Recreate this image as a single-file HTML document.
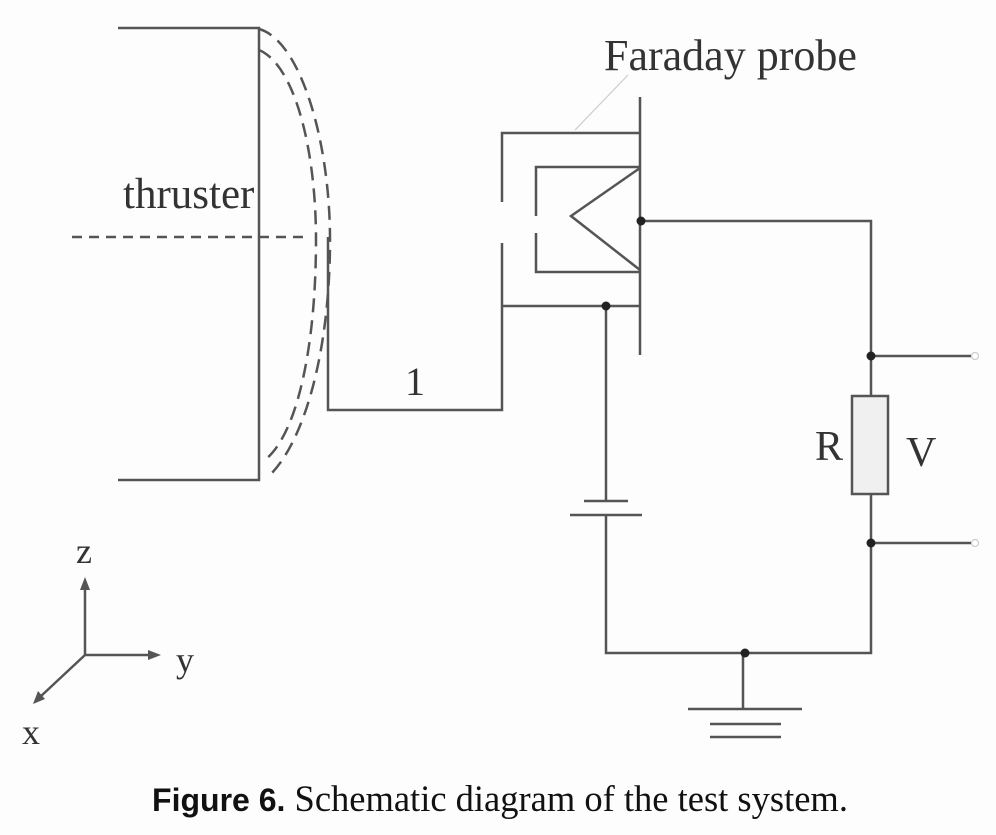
<!DOCTYPE html>
<html><head><meta charset="utf-8"><style>
html,body{margin:0;padding:0;background:#fdfdfd;}
svg{display:block}
</style></head><body>
<svg width="996" height="835" viewBox="0 0 996 835" xmlns="http://www.w3.org/2000/svg">
<g stroke="#555" stroke-width="2.5" fill="none">
<path d="M118 28H259V480H118"/>
<path d="M72 237H307" stroke-dasharray="10 7"/>
<path d="M259 29 C300 40 330 140 330 240 C330 350 305 440 270 475" stroke-dasharray="14 8"/>
<path d="M259 50 C295 65 316 150 316 240 C316 350 296 440 262 462" stroke-dasharray="14 8"/>
<path d="M328 237V410H502V243"/>
<path d="M502 202V133H640"/>
<path d="M640 97V355"/>
<path d="M502 306H640"/>
<path d="M536 216V167H640"/>
<path d="M536 233V272H640"/>
<path d="M640 168L571 216L640 270"/>
<path d="M641 221H871V653H606V515"/>
<path d="M606 306V501"/>
<path d="M584 501H628M570 515H642"/>
<path d="M743 653V709M688 709H802M710 724H781M710 737H781"/>
<path d="M871 356H972M871 543H972"/>
<rect x="852" y="396" width="36" height="98" fill="#f0f0f0"/>
<path d="M85 655V585M85 655H152M85 655L40 697"/>
</g>
<path d="M575 130L628 75" stroke="#ccc" stroke-width="1.2"/>
<g fill="#222">
<circle cx="641" cy="221" r="4.5"/>
<circle cx="606" cy="306" r="4.5"/>
<circle cx="871" cy="356" r="4.5"/>
<circle cx="871" cy="543" r="4.5"/>
<circle cx="745" cy="653" r="4.5"/>
</g>
<g fill="#fff" stroke="#ccc" stroke-width="1.2"><circle cx="975" cy="356" r="3.5"/><circle cx="975" cy="543" r="3.5"/></g>
<g fill="#555"><path d="M85 577L80 590H90Z"/><path d="M161 655L148 650V660Z"/><path d="M33 704L38 691L45 699Z"/></g>
<g font-family="Liberation Serif, serif" fill="#333">
<text x="604" y="70" font-size="44">Faraday probe</text>
<text x="123" y="208" font-size="43">thruster</text>
<text x="405" y="395" font-size="40">1</text>
<text x="815" y="460" font-size="42">R</text>
<text x="906" y="466" font-size="42">V</text>
<text x="76" y="563" font-size="36">z</text>
<text x="176" y="672" font-size="36">y</text>
<text x="22" y="744" font-size="36">x</text>
</g>
<text x="500" y="811" text-anchor="middle" font-size="36.5" fill="#111" font-family="Liberation Serif, serif"><tspan font-family="Liberation Sans, sans-serif" font-weight="bold" font-size="32">Figure 6.</tspan> Schematic diagram of the test system.</text>
</svg>
</body></html>
